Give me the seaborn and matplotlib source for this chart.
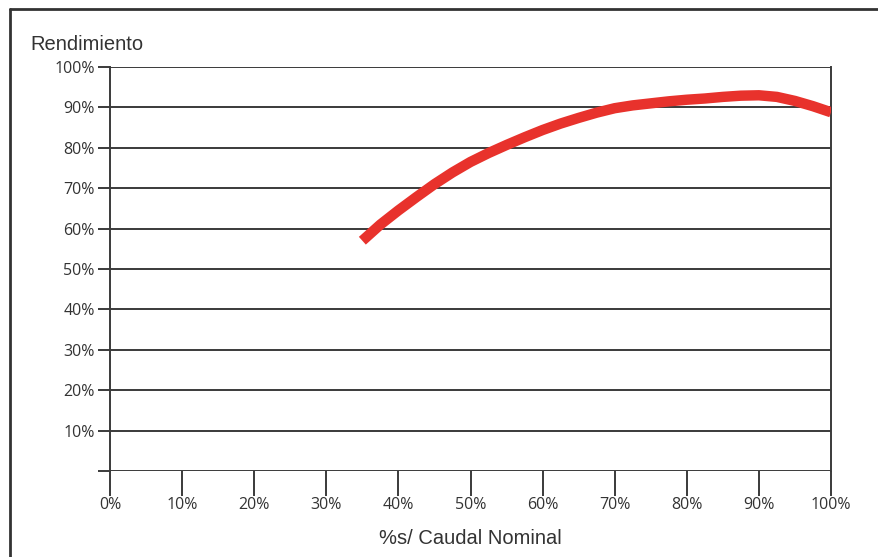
import matplotlib
matplotlib.use("Agg")
import matplotlib.pyplot as plt
from matplotlib.lines import Line2D
import seaborn as sns
import pandas as pd

# Efficiency curve: % of nominal flow vs. efficiency (%)
caudal = [35, 37.5, 40, 42.5, 45, 47.5, 50, 52.5, 55, 57.5, 60, 62.5, 65, 67.5,
          70, 72.5, 75, 77.5, 80, 82.5, 85, 87.5, 90, 92.5, 95, 97.5, 100]
rendimiento = [57.0, 61.0, 64.5, 67.8, 71.0, 73.9, 76.5, 78.7, 80.7, 82.6, 84.4, 86.0, 87.4, 88.7,
               89.8, 90.5, 91.0, 91.5, 91.9, 92.2, 92.6, 92.9, 93.0, 92.6, 91.6, 90.3, 88.8]
x_ticks = [0, 10, 20, 30, 40, 50, 60, 70, 80, 90, 100]
y_ticks = [0, 10, 20, 30, 40, 50, 60, 70, 80, 90, 100]
x_labels = [f"{v}%" for v in x_ticks]
y_labels = [""] + [f"{v}%" for v in y_ticks[1:]]

df = pd.DataFrame({"caudal": caudal, "rendimiento": rendimiento})

sns.set_style("white")
plt.rcParams["font.family"] = ["Liberation Sans", "DejaVu Sans"]

W, H = 879, 557
fig = plt.figure(figsize=(W / 100, H / 100), dpi=100)
ax = fig.add_axes([110 / W, (H - 471) / H, (831 - 110) / W, (471 - 67) / H])

grid_c = "#3a3a3a"
for v in y_ticks:
    ax.axhline(v, color=grid_c, lw=1.4, zorder=1)

sns.lineplot(data=df, x="caudal", y="rendimiento", ax=ax, color="#e8322c",
             lw=7.5, solid_capstyle="butt", solid_joinstyle="round", zorder=3)

ax.set_xlim(0, 100)
ax.set_ylim(0, 100)
ax.set_xticks(x_ticks)
ax.set_xticklabels(x_labels)
ax.set_yticks(y_ticks)
ax.set_yticklabels(y_labels)

for lab in ax.get_xticklabels() + ax.get_yticklabels():
    lab.set_fontfamily(["Open Sans", "DejaVu Sans"])
    lab.set_fontsize(11.5)
    lab.set_fontweight("medium")
    lab.set_color("#333333")

ax.tick_params(axis="x", direction="out", length=18, width=1.4, color=grid_c, pad=1, bottom=True)
ax.tick_params(axis="y", direction="out", length=9, width=1.4, color=grid_c, pad=2, left=True)

for side in ["left", "right"]:
    ax.spines[side].set_visible(True)
    ax.spines[side].set_color(grid_c)
    ax.spines[side].set_linewidth(1.4)
for side in ["top", "bottom"]:
    ax.spines[side].set_visible(False)

ax.set_xlabel("")
ax.set_ylabel("")

fig.text(30 / W, 1 - 44 / H, "Rendimiento", fontsize=14.5, color="#333333",
         ha="left", va="center")
fig.text(470 / W, 1 - 538 / H, "%s/ Caudal Nominal", fontsize=14.5, color="#333333",
         ha="center", va="center")

# outer frame (top and left edges)
fig.add_artist(Line2D([10 / W, 1], [1 - 9 / H, 1 - 9 / H], color="#333333", lw=2, transform=fig.transFigure))
fig.add_artist(Line2D([10 / W, 10 / W], [1 - 9 / H, 0], color="#333333", lw=2, transform=fig.transFigure))

fig.savefig("out.png", dpi=100)
